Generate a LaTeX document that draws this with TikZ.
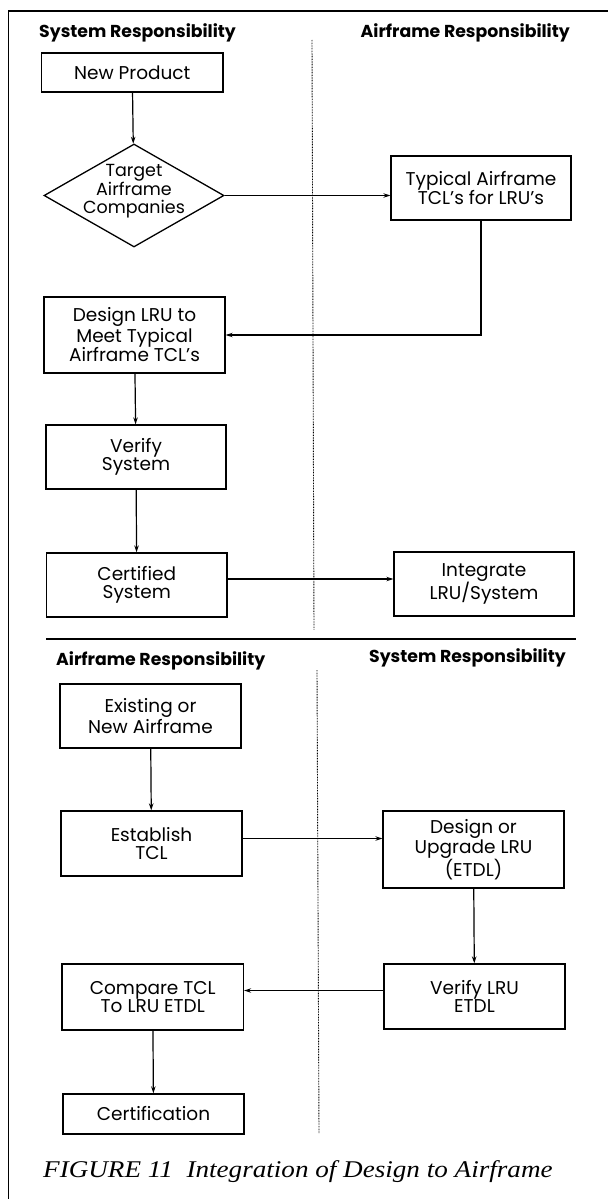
\documentclass[tikz,border=0pt]{standalone}
\usepackage{fontspec}
\usepackage{graphicx}
\setmainfont{Poppins}
\newfontfamily\capfont{Liberation Serif}
\usetikzlibrary{shapes.geometric,arrows.meta}
\begin{document}
\begin{tikzpicture}[x=1pt,y=-1pt,
  box/.style={draw,line width=1.3pt,inner sep=0pt,align=center,
    font=\fontsize{18.5}{18.5}\selectfont},
  hdr/.style={inner sep=0pt,font=\fontsize{17.3}{19}\selectfont\bfseries},
  conn/.style={line width=1.2pt,-{Stealth[length=7pt,width=4.5pt]}},
  lane/.style={line width=0.9pt,dash pattern=on 0.8pt off 0.8pt},
  frame/.style={line width=1.5pt}]
\useasboundingbox (0,0) rectangle (608,1199);
% frame
\coordinate (ftl) at (8.5,11);
\coordinate (ftr) at (608,11);
\coordinate (fbl) at (8.5,1199);
\draw[frame] (fbl) -- (ftl) -- (ftr);
% lanes
\coordinate (l1a) at (312,40);
\coordinate (l1b) at (314,630);
\draw[lane] (l1a) -- (l1b);
\coordinate (l2a) at (317,670);
\coordinate (l2b) at (319,1133);
\draw[lane] (l2a) -- (l2b);
\coordinate (sepl) at (46,639);
\coordinate (sepr) at (576,639);
\draw[frame] (sepl) -- (sepr);
% headers
\node[hdr,anchor=west] (h1) at (39,33) {System Responsibility};
\node[hdr,anchor=east] (h2) at (570,33) {Airframe Responsibility};
\node[hdr,anchor=west] (h3) at (56,661) {Airframe Responsibility};
\node[hdr,anchor=east] (h4) at (566,658) {System Responsibility};
% upper flow
\node[box,minimum width=181.5pt,minimum height=39pt] (np) at (132.25,72.5) {New Product};
\node[diamond,draw,line width=1.3pt,inner sep=0pt,minimum width=180pt,minimum height=103pt] (tac) at (134,195.5) {};
\node[inner sep=0pt,align=center,font=\fontsize{17.5}{18}\selectfont] (tact) at (134,191.5) {Target\\Airframe\\Companies};
\node[box,minimum width=180pt,minimum height=64pt] (typ) at (481,188) {Typical Airframe\\TCL's for LRU's};
\node[box,minimum width=181pt,minimum height=76pt] (dlru) at (134.5,335) {Design LRU to\\Meet Typical\\Airframe TCL's};
\node[box,minimum width=180pt,minimum height=64pt] (ver) at (136,457) {Verify\\System};
\node[box,minimum width=180.5pt,minimum height=64pt] (cert) at (136.75,585) {Certified\\System};
\node[box,minimum width=180pt,minimum height=64pt] (integ) at (484,584) {Integrate\\LRU/System};
\draw[conn] (np) -- (tac);
\draw[conn] (tac.east) -- (tac.east -| typ.west);
\draw[conn] (typ.south) |- (dlru.east);
\draw[conn] (dlru) -- (ver);
\draw[conn] (ver) -- (cert);
\draw[conn] ([yshift=6pt]cert.east) -- ([yshift=6pt]cert.east -| integ.west);
% lower flow
\node[box,minimum width=181pt,minimum height=64pt] (exist) at (150.5,716) {Existing or\\New Airframe};
\node[box,minimum width=181pt,minimum height=65pt] (estab) at (151.5,843.5) {Establish\\TCL};
\node[box,minimum width=181pt,minimum height=77pt] (dup) at (473.5,849.5) {Design or\\Upgrade LRU\\(ETDL)};
\node[box,minimum width=181pt,minimum height=65pt] (vlru) at (474.5,996.5) {Verify LRU\\ETDL};
\node[box,minimum width=181.5pt,minimum height=66pt] (comp) at (152.75,997) {Compare TCL\\To LRU ETDL};
\node[box,minimum width=181pt,minimum height=40pt] (certn) at (153.5,1114) {Certification};
\draw[conn] (exist) -- (estab);
\draw[conn] ([yshift=5pt]estab.east) -- ([yshift=5pt]estab.east -| dup.west);
\draw[conn] (dup) -- (vlru);
\draw[conn] ([yshift=6pt]vlru.west) -- ([yshift=6pt]vlru.west -| comp.east);
\draw[conn] (comp) -- (certn);
% caption
\node[inner sep=0pt,anchor=west,font=\capfont\itshape\fontsize{24}{26}\selectfont] (cap) at (43,1172) {\scalebox{1.13}[1]{FIGURE 11\ \ Integration of Design to Airframe}};
\end{tikzpicture}
\end{document}
